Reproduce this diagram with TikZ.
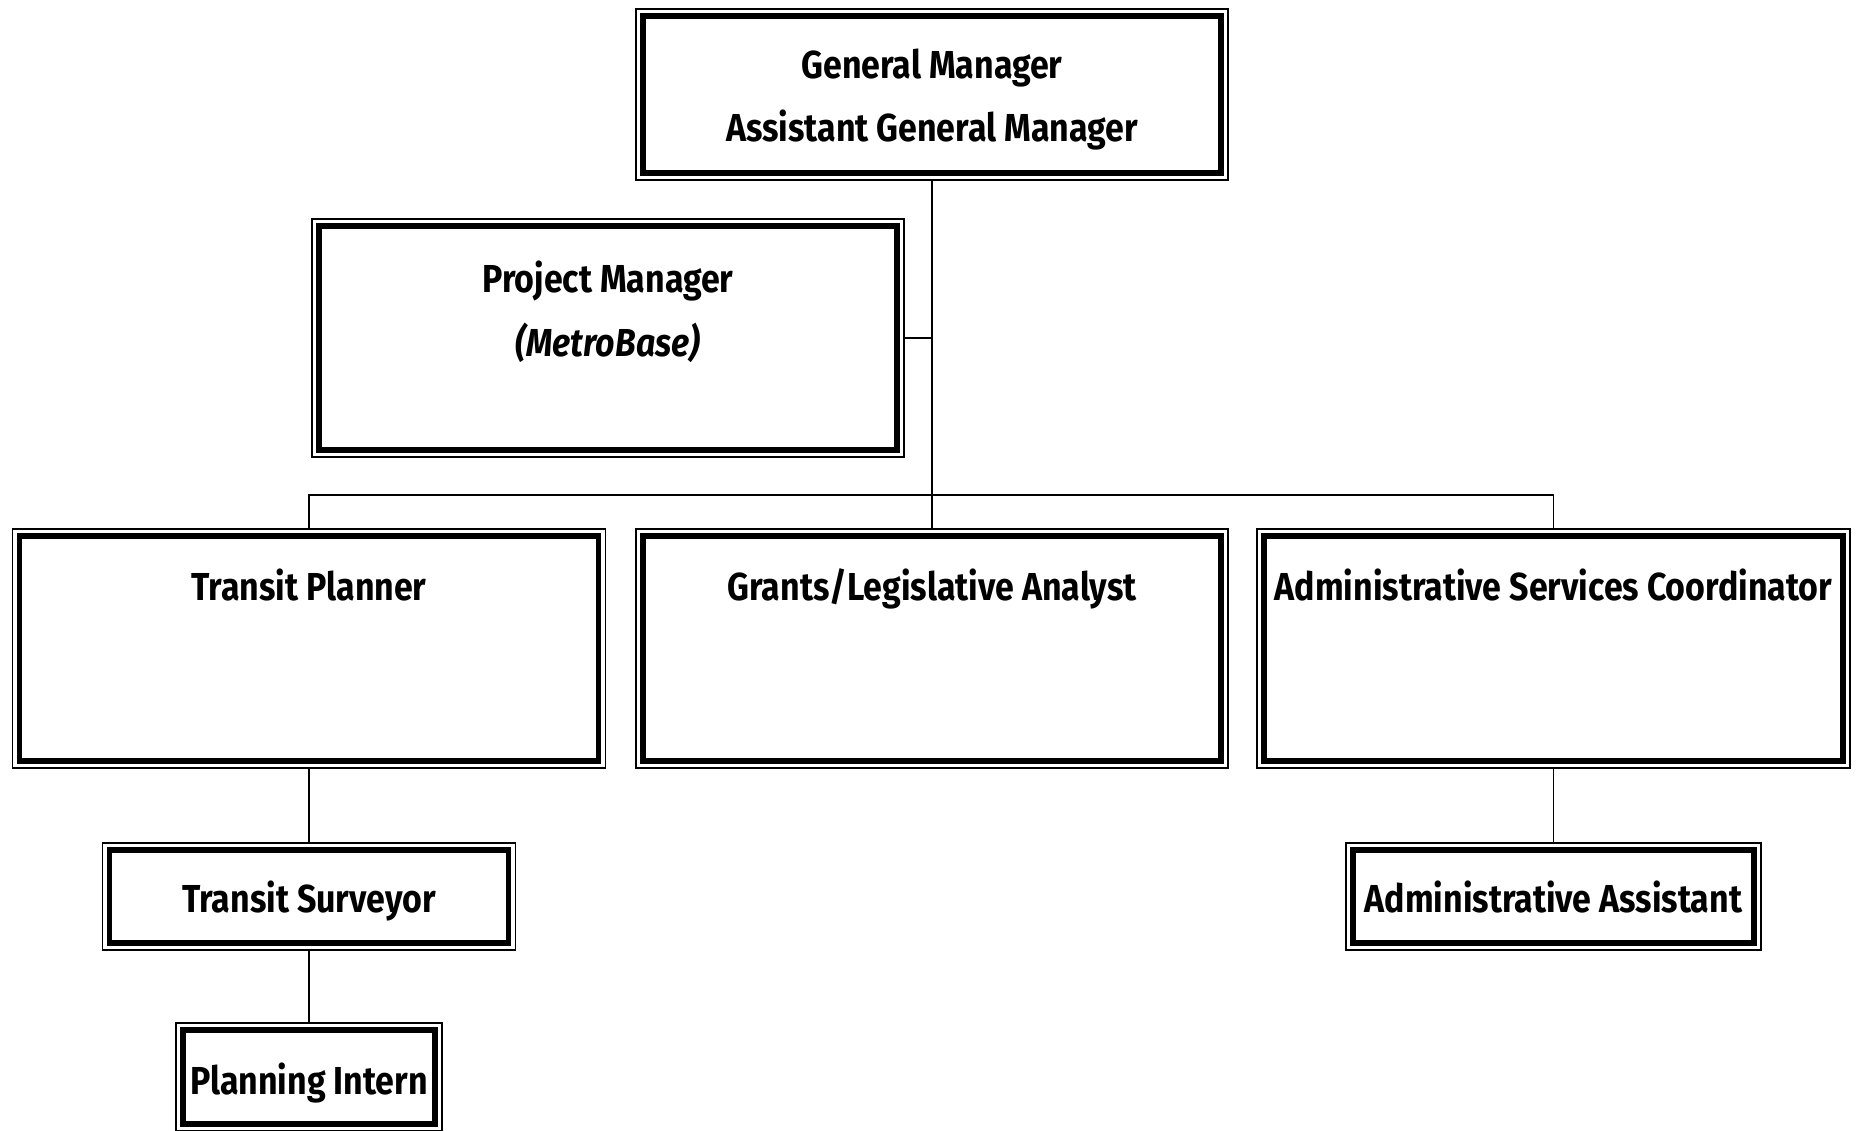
\documentclass[tikz,border=0pt]{standalone}
\usepackage{fontspec}
\setmainfont{Fira Sans}[FakeStretch=0.87]
\begin{document}
\begin{tikzpicture}[x=1pt,y=-1pt,
  frame/.style={draw, line width=1.8pt, inner sep=0pt, outer sep=0pt, fill=white},
  lbl/.style={font=\bfseries\fontsize{39}{46}\selectfont, inner sep=0pt, anchor=base},
  link/.style={draw, line width=1.8pt}]
\useasboundingbox[fill=white] (0,0) rectangle (1860,1130);
\clip (0,0) rectangle (1860,1130);

% outer frames of the positions
\node[frame, minimum width=592pt, minimum height=171pt] (gm)  at (932,94.5) {};
\node[frame, minimum width=592pt, minimum height=238pt] (pm)  at (608,338) {};
\node[frame, minimum width=593pt, minimum height=239pt] (tp)  at (309,648.5) {};
\node[frame, minimum width=592pt, minimum height=239pt] (ga)  at (932,648.5) {};
\node[frame, minimum width=593pt, minimum height=239pt] (asc) at (1553.5,648.5) {};
\node[frame, minimum width=413pt, minimum height=107pt] (ts)  at (309,896.5) {};
\node[frame, minimum width=415pt, minimum height=107pt] (aa)  at (1553.5,896.5) {};
\node[frame, minimum width=266pt, minimum height=108pt] (pi)  at (309,1077) {};

% heavy inner borders
\foreach \n in {gm,pm,tp,ga,asc,ts,aa,pi}
  \draw[line width=5.5pt] ([shift={(7pt,-7pt)}]\n.north west) rectangle ([shift={(-7pt,7pt)}]\n.south east);

% titles
\node[lbl] (gmA) at (932,78) {General Manager};
\node[lbl] (gmB) at (932,141) {Assistant General Manager};
\node[lbl] (pmA) at (608,292) {Project Manager};
\node[lbl] (pmB) at (608,356) {\itshape (MetroBase)};
\node[lbl] (tpA) at (309,600) {Transit Planner};
\node[lbl] (gaA) at (932,600) {Grants/Legislative Analyst};
\node[lbl] (ascA) at (1553.5,600) {Administrative Services Coordinator};
\node[lbl] (tsA) at (309,912) {Transit Surveyor};
\node[lbl] (aaA) at (1553.5,912) {Administrative Assistant};
\node[lbl] (piA) at (309,1094) {Planning Intern};

% reporting lines
\coordinate (bus) at (932,495);
\draw[link] (gm.south) -- (ga.north);
\draw[link] (pm.east) -- (pm.east -| gm.south);
\draw[link] (tp.north) -- (tp.north |- bus) -- (asc.north |- bus) -- (asc.north);
\draw[link] (tp.south) -- (ts.north);
\draw[link] (ts.south) -- (pi.north);
\draw[link] (asc.south) -- (aa.north);
\end{tikzpicture}
\end{document}
